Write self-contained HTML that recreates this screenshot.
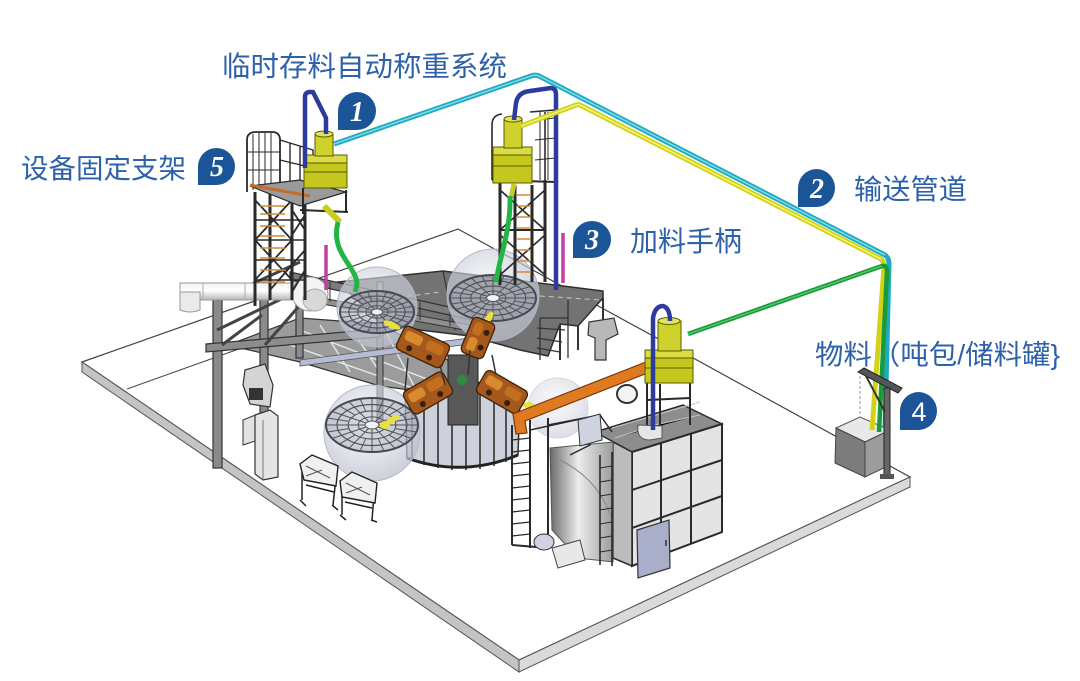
<!DOCTYPE html>
<html><head><meta charset="utf-8">
<style>
html,body{margin:0;padding:0;background:#fff;}
svg{display:block;}
.lbl{font-family:"Liberation Sans","Noto Sans CJK SC",sans-serif;fill:#2d62aa;font-size:28px;}
.num{font-family:"Liberation Serif","DejaVu Serif",serif;font-style:italic;font-weight:bold;fill:#fff;font-size:28px;}
.num4{font-family:"Liberation Sans",sans-serif;fill:#fff;font-size:27px;}
</style></head><body>
<svg width="1080" height="681" viewBox="0 0 1080 681" xmlns="http://www.w3.org/2000/svg">
<defs>
 <linearGradient id="duct" x1="0" y1="0" x2="0" y2="1"><stop offset="0" stop-color="#f2f2f2"/><stop offset="0.45" stop-color="#ffffff"/><stop offset="1" stop-color="#b5b5b5"/></linearGradient>
 <linearGradient id="chute" x1="0" y1="0" x2="1" y2="0"><stop offset="0" stop-color="#6a6a6a"/><stop offset="0.45" stop-color="#ededed"/><stop offset="1" stop-color="#9c9c9c"/></linearGradient>
 <radialGradient id="sph" cx="0.45" cy="0.4" r="0.6"><stop offset="0" stop-color="#eef0f5" stop-opacity="0.5"/><stop offset="1" stop-color="#bcc0cd" stop-opacity="0.75"/></radialGradient>
 <g id="disc">
  <circle r="1" fill="#6b7080" fill-opacity="0.22" stroke="#464955" stroke-width="2" vector-effect="non-scaling-stroke"/>
  <circle r="0.76" fill="none" stroke="#50535e" stroke-width="1.2" vector-effect="non-scaling-stroke"/>
  <circle r="0.52" fill="none" stroke="#50535e" stroke-width="1.1" vector-effect="non-scaling-stroke"/>
  <circle r="0.3" fill="none" stroke="#50535e" stroke-width="1" vector-effect="non-scaling-stroke"/>
  <path d="M0.15,0 L1,0 M0.13,0.075 L0.866,0.5 M0.075,0.13 L0.5,0.866 M0,0.15 L0,1 M-0.075,0.13 L-0.5,0.866 M-0.13,0.075 L-0.866,0.5 M-0.15,0 L-1,0 M-0.13,-0.075 L-0.866,-0.5 M-0.075,-0.13 L-0.5,-0.866 M0,-0.15 L0,-1 M0.075,-0.13 L0.5,-0.866 M0.13,-0.075 L0.866,-0.5 M0.966,0.259 L0.52,0.14 M0.707,0.707 L0.37,0.37 M0.259,0.966 L0.14,0.52 M-0.259,0.966 L-0.14,0.52 M-0.707,0.707 L-0.37,0.37 M-0.966,0.259 L-0.52,0.14 M-0.966,-0.259 L-0.52,-0.14 M-0.707,-0.707 L-0.37,-0.37 M-0.259,-0.966 L-0.14,-0.52 M0.259,-0.966 L0.14,-0.52 M0.707,-0.707 L0.37,-0.37 M0.966,-0.259 L0.52,-0.14" stroke="#50535e" stroke-width="1" fill="none" vector-effect="non-scaling-stroke"/>
  <circle r="0.15" fill="#f2f3f7" stroke="#555" stroke-width="1" vector-effect="non-scaling-stroke"/>
 </g>
</defs>

<!-- floor plate -->
<polygon points="82,362 458,229 910,477 519,660" fill="#fff" stroke="#444" stroke-width="1.2"/>
<polygon points="82,362 519,660 519,672 82,372" fill="#c4c4c4" stroke="#555" stroke-width="1"/>
<polygon points="519,660 910,477 910,487 519,672" fill="#dadada" stroke="#555" stroke-width="1"/>
<line x1="127" y1="389" x2="250" y2="345" stroke="#444" stroke-width="1"/>

<!-- central platform -->
<polygon points="338,282 443,271 603,291 603,298 578,326 560,324 548,356 520,350 470,336 420,330 380,322" fill="#737373" stroke="#2e2e2e" stroke-width="1.5"/>
<path d="M450,290 L600,300 M380,300 L440,292" stroke="#c8c8c8" stroke-width="1" stroke-dasharray="5,4"/>
<line x1="443" y1="271" x2="455" y2="330" stroke="#333" stroke-width="1.2"/>
<polygon points="228,345 300,318 380,324 470,372 440,394 380,386 300,362" fill="#9c9c9c" stroke="#333" stroke-width="1.2"/>
<path d="M300,330 L450,388 M290,345 L430,394 M320,325 L350,372 M350,327 L385,380 M385,330 L415,388" stroke="#e8e8e8" stroke-width="1.4"/>
<!-- stairs right -->
<path d="M540,318 L568,318 M537,328 L565,330 M537,338 L562,342 M537,348 L560,352 M568,300 L568,358 M540,318 L540,360" stroke="#333" stroke-width="1.3"/>
<path d="M578,326 L578,350 M603,298 L603,330 M560,324 L560,360" stroke="#333" stroke-width="2"/>
<!-- console right -->
<polygon points="589,322 614,318 618,334 606,340 606,360 595,360 595,338 588,335" fill="#b8b8b8" stroke="#333" stroke-width="1.2"/>

<!-- round fence enclosure -->
<path d="M405,390 Q462,372 520,392 L518,455 Q462,478 407,458 Z" fill="#cdd1db" stroke="#2e2e2e" stroke-width="1.5"/>
<path d="M412,392 L412,460 M424,387 L424,465 M438,384 L438,468 M452,383 L452,470 M466,383 L466,470 M480,384 L480,469 M494,386 L494,466 M506,389 L506,462" stroke="#333" stroke-width="1.6"/>
<path d="M407,458 Q462,478 518,455" stroke="#222" stroke-width="3" fill="none"/>
<rect x="448" y="355" width="30" height="70" fill="#585858" stroke="#222"/>
<circle cx="462" cy="380" r="5" fill="#2c8a45"/>

<!-- left big frame -->
<rect x="213" y="298" width="9" height="170" fill="#8a8a8a" stroke="#333" stroke-width="1.2"/>
<rect x="260" y="298" width="8" height="118" fill="#8a8a8a" stroke="#333" stroke-width="1.2"/>
<rect x="296" y="298" width="7" height="60" fill="#8a8a8a" stroke="#333" stroke-width="1.2"/>
<rect x="377" y="282" width="6" height="140" fill="#8a8a8a" stroke="#333" stroke-width="1"/>
<polygon points="206,344 380,329 380,337 206,352" fill="#8c8c8c" stroke="#333" stroke-width="1.2"/>
<path d="M217,300 L300,262 M217,330 L300,290 M265,345 L300,305 M222,345 L262,315" stroke="#444" stroke-width="3"/>
<polygon points="290,272 472,312 472,320 290,280" fill="#7b7b7b" stroke="#333" stroke-width="1.2"/>
<polygon points="300,294 470,325 470,331 300,300" fill="#8e8e8e" stroke="#333" stroke-width="1"/>
<path d="M300,276 L300,296 M330,282 L330,302 M360,289 L360,308 M390,296 L390,314 M420,302 L420,320 M450,308 L450,326" stroke="#333" stroke-width="1"/>
<polygon points="300,360 470,338 470,344 300,366" fill="#b6bcd8" stroke="#555" stroke-width="0.8"/>

<!-- white duct -->
<rect x="180" y="283" width="122" height="17" fill="url(#duct)" stroke="#999" stroke-width="1"/>
<path d="M180,292 L180,310 Q190,314 200,310 L200,292 Z" fill="#eaeaea" stroke="#999"/>
<path d="M203,283 L203,300 M245,283 L245,300 M270,283 L270,300" stroke="#aaa" stroke-width="1"/>
<ellipse cx="310" cy="294" rx="18" ry="17" fill="#f4f4f4" stroke="#999"/>
<ellipse cx="315" cy="300" rx="12" ry="11" fill="#d8d8d8" stroke="#aaa"/>

<!-- spheres -->
<circle cx="377" cy="307" r="40" fill="url(#sph)" stroke="#b4b9c6"/>
<use href="#disc" transform="translate(377,312) scale(37,21)"/>
<circle cx="493" cy="295" r="46" fill="url(#sph)" stroke="#b4b9c6"/>
<use href="#disc" transform="translate(493,298) scale(43,23)"/>
<circle cx="558" cy="408" r="30" fill="url(#sph)" stroke="#c4c8d3" opacity="0.7"/>
<circle cx="372" cy="433" r="48" fill="url(#sph)" stroke="#b4b9c6"/>
<use href="#disc" transform="translate(372,425) scale(46,27)"/>

<!-- yellow nozzles -->
<g fill="#e6e23a">
<ellipse cx="392" cy="325" rx="9" ry="3" transform="rotate(25 392 325)"/>
<ellipse cx="489" cy="318" rx="7" ry="3" transform="rotate(-60 489 318)"/>
<ellipse cx="392" cy="420" rx="9" ry="3" transform="rotate(-30 392 420)"/>
<ellipse cx="528" cy="405" rx="6" ry="3"/>
<ellipse cx="385" cy="425" rx="5" ry="4"/>
</g>

<!-- brown glove boxes -->
<g transform="translate(423,347) rotate(25)">
<rect x="-25" y="-13" width="50" height="26" rx="5" fill="#a4581c" stroke="#3e2108" stroke-width="1.3"/>
<rect x="-21" y="-9" width="18" height="10" rx="3" fill="#d98a2e"/><rect x="2" y="-9" width="18" height="10" rx="3" fill="#c27020"/>
<circle cx="-12" cy="7" r="3" fill="#3a1f08"/><circle cx="10" cy="7" r="3" fill="#3a1f08"/></g>
<g transform="translate(478,338) rotate(-68)">
<rect x="-19" y="-12" width="38" height="24" rx="5" fill="#a4581c" stroke="#3e2108" stroke-width="1.3"/>
<rect x="-15" y="-8" width="14" height="9" rx="3" fill="#d98a2e"/><rect x="2" y="-8" width="13" height="9" rx="3" fill="#c27020"/>
<circle cx="-8" cy="6" r="3" fill="#3a1f08"/><circle cx="8" cy="6" r="3" fill="#3a1f08"/></g>
<g transform="translate(428,393) rotate(-30)">
<rect x="-23" y="-13" width="46" height="26" rx="5" fill="#a4581c" stroke="#3e2108" stroke-width="1.3"/>
<rect x="-19" y="-9" width="17" height="10" rx="3" fill="#d98a2e"/><rect x="2" y="-9" width="17" height="10" rx="3" fill="#c27020"/>
<circle cx="-10" cy="7" r="3" fill="#3a1f08"/><circle cx="10" cy="7" r="3" fill="#3a1f08"/></g>
<g transform="translate(502,392) rotate(30)">
<rect x="-24" y="-13" width="48" height="26" rx="5" fill="#a4581c" stroke="#3e2108" stroke-width="1.3"/>
<rect x="-20" y="-9" width="17" height="10" rx="3" fill="#d98a2e"/><rect x="2" y="-9" width="17" height="10" rx="3" fill="#c27020"/>
<circle cx="-11" cy="7" r="3" fill="#3a1f08"/><circle cx="10" cy="7" r="3" fill="#3a1f08"/></g>
<path d="M408,358 L405,390 M440,365 L445,385 M470,350 L468,375 M492,355 L496,375" stroke="#333" stroke-width="1.5"/>

<!-- left devices / cabinet / carts -->
<polygon points="245,370 265,364 273,385 270,407 250,404 243,385" fill="#d4d4d4" stroke="#333" stroke-width="1.2"/>
<rect x="249" y="388" width="14" height="12" fill="#333"/>
<polygon points="243,420 258,414 258,440 243,445" fill="#e2e2e2" stroke="#333"/>
<polygon points="255,415 270,410 278,416 278,477 263,480 255,474" fill="#e4e4e4" stroke="#333" stroke-width="1.2"/>
<line x1="263" y1="420" x2="263" y2="480" stroke="#777"/>
<g stroke="#222" stroke-width="1.5" fill="none">
<path d="M302,472 L302,500 M336,478 L333,505 M306,485 L334,492 M300,500 L306,506 M332,505 L338,510"/>
<path d="M342,490 L342,515 M374,495 L372,520 M345,502 L372,508 M340,515 L346,520 M371,520 L377,522"/>
</g>
<polygon points="300,464 312,455 338,466 336,486 304,480" fill="#f0f0f0" stroke="#222" stroke-width="1.4"/>
<path d="M306,466 L330,478 M306,476 L322,470" stroke="#555"/>
<polygon points="340,481 352,472 377,483 375,503 342,497" fill="#f0f0f0" stroke="#222" stroke-width="1.4"/>
<path d="M346,483 L370,495 M346,493 L362,487" stroke="#555"/>

<!-- left tower -->
<g stroke="#2a2a2a" fill="none">
<path d="M247,192 L247,140 Q247,132 256,132 L272,132 Q280,132 280,140 L280,192" stroke-width="1.8"/>
<path d="M253,134 L253,190 M259,133 L259,190 M265,133 L265,190 M271,133 L271,190 M247,152 L280,152 M247,170 L280,170" stroke-width="1"/>
<path d="M280,140 L313,150 L313,192 M290,143 L290,190 M300,146 L300,190 M280,160 L313,168" stroke-width="1.4"/>
<path d="M255,192 L255,306 M270,192 L270,300 M292,192 L292,300 M305,205 L305,300" stroke-width="3"/>
<path d="M255,200 L292,240 M292,200 L255,240 M255,240 L292,280 M292,240 L255,280 M270,290 L305,250 M292,292 L305,270 M292,210 L305,230 M292,235 L305,215" stroke-width="1.8"/>
<path d="M255,220 L305,220 M255,260 L305,260 M255,240 L305,240 M255,280 L305,280" stroke-width="1.5"/>
</g>
<path d="M260,206 L285,206 M260,214 L285,214 M260,226 L285,226 M260,236 L285,236 M260,248 L285,248 M260,258 L285,258 M260,270 L285,270 M260,282 L285,282" stroke="#d08a3a" stroke-width="1.6"/>
<polygon points="250,186 300,180 346,192 300,206" fill="#9a9a9a" stroke="#2a2a2a" stroke-width="1.2"/>
<line x1="250" y1="185" x2="310" y2="196" stroke="#c86b28" stroke-width="3"/>
<path d="M303,188 L303,214 M346,190 L346,212 M300,210 L348,212" stroke="#2a2a2a" stroke-width="2"/>

<!-- right tower -->
<g stroke="#2a2a2a" fill="none">
<path d="M492,180 L492,125 Q492,115 502,114 M545,112 L545,180 M530,112 L555,110 L555,182" stroke-width="1.6"/>
<path d="M535,120 L555,118 M535,140 L555,138 M535,160 L555,158 M540,112 L540,180 M548,112 L548,180" stroke-width="1"/>
<path d="M500,180 L500,285 M545,180 L545,282 M515,185 L515,285 M532,185 L532,282" stroke-width="3"/>
<path d="M500,190 L545,230 M545,190 L500,230 M500,235 L545,275 M545,235 L500,275" stroke-width="1.6"/>
<path d="M492,180 L556,182 M500,230 L545,230" stroke-width="2"/>
</g>
<path d="M517,195 L531,195 M517,206 L531,206 M517,217 L531,217 M517,228 L531,228 M517,239 L531,239 M517,250 L531,250 M517,261 L531,261 M517,272 L531,272" stroke="#d08a3a" stroke-width="1.6"/>

<!-- magenta handles -->
<line x1="326" y1="245" x2="326" y2="290" stroke="#c23ea6" stroke-width="3.5"/>
<line x1="563" y1="233" x2="563" y2="283" stroke="#c23ea6" stroke-width="3.5"/>

<!-- right enclosure -->
<polygon points="595,432 683,405 722,424 632,452" fill="#8d8d8d" stroke="#2a2a2a" stroke-width="1.5"/>
<path d="M612,428 L700,402 M615,438 L655,425 L700,415" stroke="#c8c8c8" stroke-width="1"/>
<polygon points="632,452 722,424 722,532 632,566" fill="#e4e4e4" stroke="#2a2a2a" stroke-width="2"/>
<path d="M661,443 L661,555 M691,434 L691,544 M632,490 L722,460 M632,528 L722,496" stroke="#2a2a2a" stroke-width="2"/>
<polygon points="613,442 632,452 632,566 613,558" fill="#bcbcbc" stroke="#2a2a2a" stroke-width="1.5"/>
<polygon points="550,448 613,442 613,562 578,558 552,530" fill="url(#chute)" stroke="#555" stroke-width="1"/>
<path d="M560,460 Q600,480 612,520" stroke="#888" fill="none"/>
<g stroke="#2a2a2a" fill="none">
<path d="M512,425 L512,545 M530,420 L530,548 M548,418 L548,545 M512,545 L548,548" stroke-width="2"/>
<path d="M512,440 L530,438 M512,452 L530,450 M512,464 L530,462 M512,476 L530,474 M512,488 L530,486 M512,500 L530,498 M512,512 L530,510 M512,524 L530,522 M512,536 L530,534" stroke-width="1.2"/>
<path d="M600,455 L600,565 M612,452 L612,566" stroke-width="1.6"/>
<path d="M600,468 L612,466 M600,482 L612,480 M600,496 L612,494 M600,510 L612,508 M600,524 L612,522 M600,538 L612,536 M600,552 L612,550" stroke-width="1"/>
<path d="M548,425 L600,415 L612,432 M530,430 L585,418 L590,445 L570,455" stroke-width="1.5"/>
</g>
<ellipse cx="544" cy="542" rx="10" ry="8" fill="#cfd3e0" stroke="#333"/>
<polygon points="552,548 580,540 585,560 558,568" fill="#e8e8e8" stroke="#444"/>
<polygon points="578,420 600,414 602,440 580,446" fill="#cfd3e0" stroke="#333"/>
<!-- orange beam -->
<polygon points="513,414 646,362 650,372 525,421 527,433 516,434" fill="#e07a20" stroke="#7a3a08" stroke-width="1.2"/>
<ellipse cx="627" cy="394" rx="10" ry="9" fill="#f4f4f4" stroke="#333" stroke-width="2"/>
<!-- electrical box -->
<polygon points="637,530 669,520 670,568 638,578" fill="#a9afcb" stroke="#333" stroke-width="1.2"/>
<line x1="666" y1="540" x2="666" y2="546" stroke="#333" stroke-width="1.5"/>
<!-- hopper 3 frame -->
<path d="M647,382 L647,432 M690,380 L690,425 M660,384 L660,430 M647,400 L690,398" stroke="#2a2a2a" stroke-width="2"/>
<path d="M638,425 Q636,440 650,440 L662,438 L662,426 Z" fill="#e6e6e6" stroke="#555"/>

<!-- hoppers -->
<g stroke="#5a5d00" stroke-width="1">
<rect x="304" y="155" width="43" height="33" fill="#c4c81e"/>
<rect x="304" y="155" width="43" height="8" fill="#d9dc44"/>
<line x1="304" y1="172" x2="347" y2="172"/>
<rect x="315" y="134" width="18" height="22" fill="#cfd22c"/>
<ellipse cx="324" cy="134" rx="9" ry="3" fill="#e3e560"/>
<rect x="493" y="147" width="39" height="36" fill="#c4c81e"/>
<rect x="493" y="147" width="39" height="8" fill="#d9dc44"/>
<line x1="493" y1="166" x2="532" y2="166"/>
<rect x="504" y="119" width="18" height="29" fill="#cfd22c"/>
<ellipse cx="513" cy="119" rx="9" ry="3" fill="#e3e560"/>
<rect x="645" y="350" width="48" height="33" fill="#c4c81e"/>
<rect x="645" y="350" width="48" height="8" fill="#d9dc44"/>
<line x1="645" y1="368" x2="693" y2="368"/>
<rect x="658" y="321" width="23" height="30" fill="#cfd22c"/>
<ellipse cx="669" cy="321" rx="11" ry="3.5" fill="#e3e560"/>
</g>
<line x1="324" y1="206" x2="340" y2="222" stroke="#c8cc20" stroke-width="6"/>
<line x1="514" y1="184" x2="511" y2="198" stroke="#c8cc20" stroke-width="5"/>

<!-- green hoses -->
<path d="M338,222 C332,245 345,258 352,270 S357,285 355,292" stroke="#24b443" stroke-width="5" fill="none"/>
<path d="M510,196 C511,230 500,255 496,282" stroke="#24b443" stroke-width="5" fill="none"/>

<!-- navy pipes -->
<g fill="none" stroke-linejoin="round">
<path d="M305,168 L305,97 Q305,92 310,92 L313,92 L326,118 L326,134" stroke="#2d3b9e" stroke-width="4.5"/>
<path d="M514,120 L516,103 Q518,92 530,91 L551,88 Q556,88 556,95 L556,290" stroke="#2d3b9e" stroke-width="4.5"/>
<path d="M653,430 L653,318 Q655,306 663,306 Q670,308 670,321" stroke="#2d3b9e" stroke-width="4.5"/>
</g>

<!-- material box & stand -->
<polygon points="836,428 860,417 890,430 865,442" fill="#e8e8e8" stroke="#555"/>
<polygon points="836,428 865,442 865,477 835,463" fill="#7c7c7c" stroke="#444"/>
<polygon points="865,442 890,430 890,465 865,477" fill="#9c9c9c" stroke="#444"/>
<line x1="860" y1="376" x2="860" y2="418" stroke="#999" stroke-dasharray="3,2"/>

<!-- conveying pipes -->
<g fill="none" stroke-linejoin="round">
<path d="M334,144 L531,76 Q536,74 541,77 L885,255 Q889,258 889,264 L885,428" stroke="#22a9c2" stroke-width="5"/>
<path d="M334,144 L531,76 Q536,74 541,77 L885,255" stroke="#7fe0ea" stroke-width="1.4"/>
<path d="M521,126 L576,105 Q579,104 582,106 L881,259 Q884,262 884,267 L872,430" stroke="#d2d21a" stroke-width="5"/>
<path d="M521,126 L576,105 Q579,104 582,106 L881,259" stroke="#f7f780" stroke-width="1.4"/>
<path d="M688,334 L882,266 Q887,265 887,271 L879,432" stroke="#1a9a38" stroke-width="4.5"/>
<path d="M688,334 L882,266" stroke="#4fd06a" stroke-width="1.2"/>
</g>
<!-- stand post -->
<polygon points="858,372 864,368 902,388 898,393" fill="#555" stroke="#222"/>
<rect x="884" y="388" width="6" height="90" fill="#666" stroke="#222"/>
<line x1="866" y1="376" x2="885" y2="412" stroke="#333" stroke-width="2"/>
<rect x="880" y="474" width="14" height="5" fill="#555"/>

<!-- labels -->
<text class="lbl" x="222" y="76" textLength="285" lengthAdjust="spacingAndGlyphs">临时存料自动称重系统</text>
<text class="lbl" x="21" y="178" textLength="165" lengthAdjust="spacingAndGlyphs" style="font-size:27.5px">设备固定支架</text>
<text class="lbl" x="854" y="199" textLength="113" lengthAdjust="spacingAndGlyphs">输送管道</text>
<text class="lbl" x="630" y="251" textLength="112" lengthAdjust="spacingAndGlyphs">加料手柄</text>
<text class="lbl" x="815" y="364" textLength="245" lengthAdjust="spacingAndGlyphs" style="font-size:27.5px">物料（吨包/储料罐}</text>

<!-- badges -->
<g fill="#1b5597">
<path d="M338,130 L338,111 A19,19 0 0 1 357,92 A19,19 0 0 1 376,111 A19,19 0 0 1 357,130 Z"/>
<path d="M198,185 L198,166.5 A18.5,18.5 0 0 1 216.5,148 A18.5,18.5 0 0 1 235,166.5 A18.5,18.5 0 0 1 216.5,185 Z"/>
<path d="M798,207 L798,188 A18.5,19 0 0 1 816.5,169 A18.5,19 0 0 1 835,188 A18.5,19 0 0 1 816.5,207 Z"/>
<path d="M573,258 L573,239.5 A19,18.5 0 0 1 592,221 A19,18.5 0 0 1 611,239.5 A19,18.5 0 0 1 592,258 Z"/>
<path d="M900,430 L900,411 A18.5,19 0 0 1 918.5,392 A18.5,19 0 0 1 937,411 A18.5,19 0 0 1 918.5,430 Z"/>
</g>
<text class="num" x="357" y="121" text-anchor="middle">1</text>
<text class="num" x="217" y="176" text-anchor="middle">5</text>
<text class="num" x="817" y="198" text-anchor="middle">2</text>
<text class="num" x="592" y="249" text-anchor="middle">3</text>
<text class="num4" x="919" y="421" text-anchor="middle">4</text>
</svg>
</body></html>
